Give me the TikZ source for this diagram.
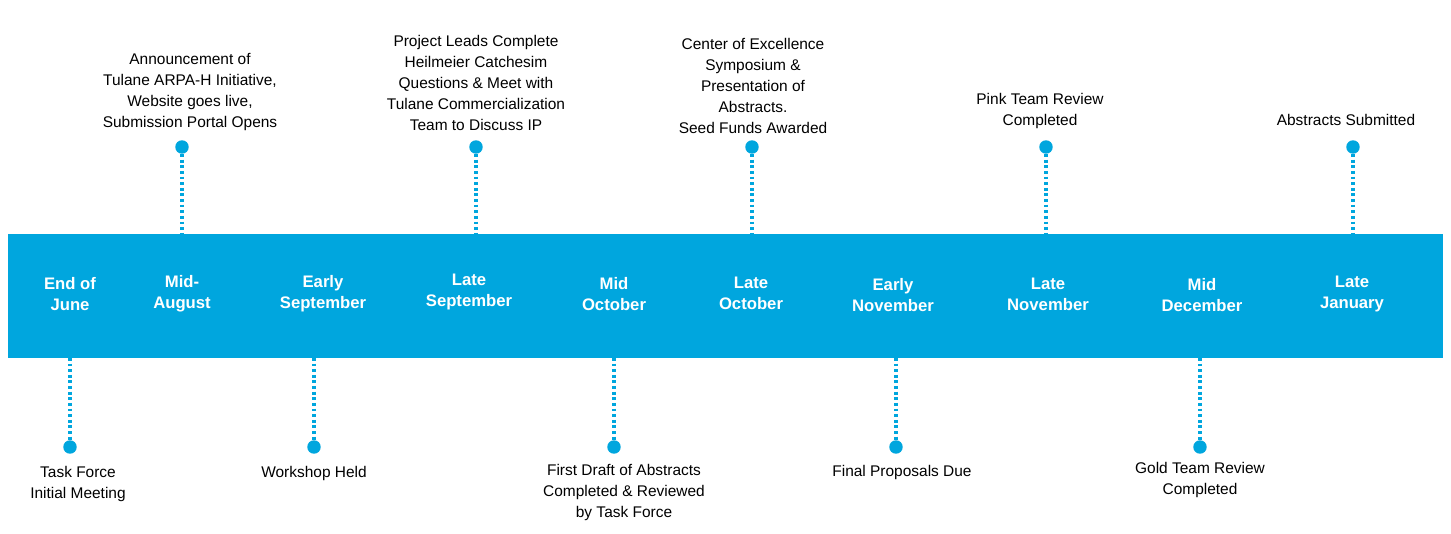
\documentclass[tikz,border=0pt]{standalone}
\usepackage{fontspec}
\setmainfont{Liberation Sans}
\definecolor{tblue}{RGB}{0,166,222}
\begin{document}
\begin{tikzpicture}[x=0.02cm,y=-0.02cm,
  band/.style={white,font=\fontsize{9.5}{12}\selectfont\bfseries,align=center},
  ev/.style={black,font=\fontsize{8.8}{12}\selectfont,align=center,inner sep=0pt},
  dot/.style={circle,fill=tblue,minimum size=13.5pt*0.567,inner sep=0pt},
  conn/.style={tblue,line width=1.8pt,dash pattern=on 1.6pt off 1.6pt}]
\useasboundingbox (0,0) rectangle (1451,534);
\fill[tblue] (8,234) rectangle (1443,358);
\node[band] (m1) at (70,294) {End of\\June};
\node[band] (m2) at (182,294) {Mid-\\August};
\node[band] (m3) at (323,294) {Early\\September};
\node[band] (m4) at (469,292) {Late\\September};
\node[band] (m5) at (614,294) {Mid\\October};
\node[band] (m6) at (751,293) {Late\\October};
\node[band] (m7) at (893,295) {Early\\November};
\node[band] (m8) at (1048,294) {Late\\November};
\node[band] (m9) at (1202,295) {Mid\\December};
\node[band] (m10) at (1352,294) {Late\\January};
% top events
\foreach \x [count=\i] in {182,476,752,1046,1353}{
  \node[dot] (t\i) at (\x,147) {};
  \coordinate (tb\i) at (\x,234);
  \draw[conn] (t\i) -- (tb\i);
}
\node[ev,anchor=south] (tl1) at (190,131) {Announcement of\\Tulane ARPA-H Initiative,\\Website goes live,\\Submission Portal Opens};
\node[ev,anchor=south] (tl2) at (476,131) {Project Leads Complete\\Heilmeier Catchesim\\Questions \& Meet with\\Tulane Commercialization\\Team to Discuss IP};
\node[ev,anchor=south] (tl3) at (753,134) {Center of Excellence\\Symposium \&\\Presentation of\\Abstracts.\\Seed Funds Awarded};
\node[ev,anchor=south] (tl4) at (1040,129) {Pink Team Review\\Completed};
\node[ev,anchor=south] (tl5) at (1346,126) {Abstracts Submitted};
% bottom events
\foreach \x [count=\i] in {70,314,614,896,1200}{
  \node[dot] (b\i) at (\x,447) {};
  \coordinate (bc\i) at (\x,358);
  \draw[conn] (bc\i) -- (b\i);
}
\node[ev,anchor=north] (bl1) at (78,466) {Task Force\\Initial Meeting};
\node[ev,anchor=north] (bl2) at (314,466) {Workshop Held};
\node[ev,anchor=north] (bl3) at (624,464) {First Draft of Abstracts\\Completed \& Reviewed\\by Task Force};
\node[ev,anchor=north] (bl4) at (902,465) {Final Proposals Due};
\node[ev,anchor=north] (bl5) at (1200,462) {Gold Team Review\\Completed};
\end{tikzpicture}
\end{document}
